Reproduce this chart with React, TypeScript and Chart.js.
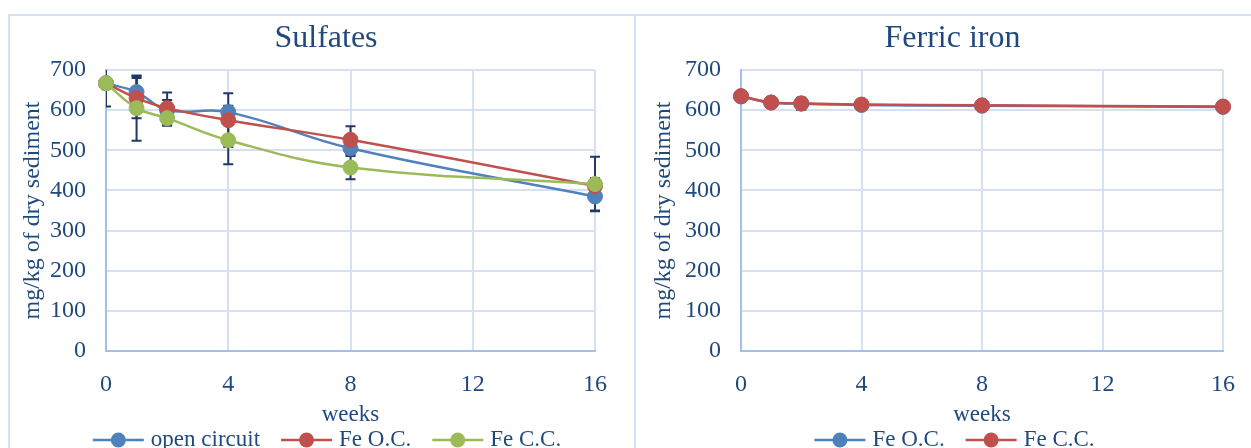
import React, { useEffect, useRef } from "react";
import { Chart, registerables } from "chart.js";
Chart.register(...registerables);

// ---- data ----
const weeks = [0, 1, 2, 4, 8, 16];

const sulfOpenCircuit = [667, 645, 600, 595, 505, 385];
const sulfFeOC = [667, 630, 605, 575, 526, 411];
const sulfFeCC = [667, 605, 580, 525, 457, 416];
const sulfOpenCircuitErr = [58, 40, 25, 16, 15, 35];
const sulfFeOCErr = [0, 50, 39, 67, 34, 20];
const sulfFeCCErr = [0, 81, 19, 60, 29, 68];

const ferricFeOC = [634, 619, 616, 613, 611, 608];
const ferricFeCC = [635, 619, 617, 614, 612, 609];
const ferricFeOCErr = [0, 0, 15, 0, 0, 0];
const ferricFeCCErr = [0, 0, 0, 0, 0, 0];

const sulfLabels = ["open circuit", "Fe O.C.", "Fe C.C."];
const ferricLabels = ["Fe O.C.", "Fe C.C."];

// ---- styles ----
const FONT = '"Liberation Serif", "Times New Roman", serif';
const TEXT = "#1F497D";
const GRID = "#D5E0F1";
const AXIS = "#A3C0E8";
const BORDER = "#D6E1F2";
const ERR = "#1F3864";
const BLUE = "#4F81BD";
const RED = "#C0504D";
const GREEN = "#9BBB59";

const errorBarPlugin = {
  id: "errbars",
  beforeDatasetsDraw(chart: any) {
    const { ctx, chartArea, scales } = chart;
    ctx.save();
    ctx.beginPath();
    ctx.rect(chartArea.left, chartArea.top, chartArea.right - chartArea.left + 12, chartArea.bottom - chartArea.top + 12);
    ctx.clip();
    ctx.strokeStyle = ERR;
    ctx.lineWidth = 2;
    chart.data.datasets.forEach((ds: any) => {
      const errs: number[] = ds.errors || [];
      ds.data.forEach((p: any, i: number) => {
        const e = errs[i];
        if (!e) return;
        const x = scales.x.getPixelForValue(p.x);
        const yt = scales.y.getPixelForValue(p.y + e);
        const yb = scales.y.getPixelForValue(p.y - e);
        ctx.beginPath();
        ctx.moveTo(x, yt);
        ctx.lineTo(x, yb);
        ctx.moveTo(x - 5, yt);
        ctx.lineTo(x + 5, yt);
        ctx.moveTo(x - 5, yb);
        ctx.lineTo(x + 5, yb);
        ctx.stroke();
      });
    });
    ctx.restore();
  },
};

function legendPlugin(centerX: number, y: number) {
  return {
    id: "xlegend",
    afterDraw(chart: any) {
      const { ctx } = chart;
      ctx.save();
      ctx.font = `23px ${FONT}`;
      const items = chart.data.datasets.map((ds: any) => ({
        label: ds.label,
        color: ds.borderColor,
        w: 51 + 7 + ctx.measureText(ds.label).width,
      }));
      const gap = 21;
      const total = items.reduce((a: number, it: any) => a + it.w, 0) + gap * (items.length - 1);
      let x = centerX - total / 2;
      items.forEach((it: any) => {
        ctx.strokeStyle = it.color;
        ctx.lineWidth = 2.5;
        ctx.beginPath();
        ctx.moveTo(x, y);
        ctx.lineTo(x + 51, y);
        ctx.stroke();
        ctx.fillStyle = it.color;
        ctx.beginPath();
        ctx.arc(x + 25.5, y, 7.5, 0, Math.PI * 2);
        ctx.fill();
        ctx.fillStyle = TEXT;
        ctx.textAlign = "left";
        ctx.textBaseline = "middle";
        ctx.fillText(it.label, x + 58, y);
        x += it.w + gap;
      });
      ctx.restore();
    },
  };
}

function series(label: string, values: number[], errs: number[], color: string, order: number) {
  return {
    label,
    data: weeks.map((w, i) => ({ x: w, y: values[i] })),
    errors: errs,
    order,
    clip: false,
    borderColor: color,
    backgroundColor: color,
    pointBackgroundColor: color,
    pointBorderColor: color,
    pointRadius: 7.5,
    pointHoverRadius: 7.5,
    pointBorderWidth: 1,
    borderWidth: 2.5,
    tension: 0.4,
  };
}

function makeConfig(opts: {
  title: string;
  datasets: any[];
  padLeft: number;
  yAxisWidth: number;
  yTitlePad: number;
  rightAxisWidth: number;
  legendX: number;
}) {
  return {
    type: "line" as const,
    data: { datasets: opts.datasets },
    plugins: [errorBarPlugin, legendPlugin(opts.legendX, 424)],
    options: {
      animation: false as const,
      responsive: false,
      events: [],
      layout: { padding: { left: opts.padLeft, right: 0, top: 0, bottom: 17 } },
      plugins: {
        legend: { display: false },
        tooltip: { enabled: false },
        title: {
          display: true,
          text: opts.title,
          color: TEXT,
          font: { family: FONT, size: 32, weight: "normal" as const },
          padding: { top: 3.8, bottom: 11.8 },
        },
      },
      scales: {
        x: {
          type: "linear" as const,
          min: 0,
          max: 16,
          afterFit: (s: any) => {
            s.height = 80;
          },
          ticks: {
            stepSize: 4,
            color: TEXT,
            font: { family: FONT, size: 24 },
            padding: 19,
            maxRotation: 0,
          },
          grid: { color: GRID, lineWidth: 2, drawTicks: false },
          border: { color: AXIS, width: 2 },
          title: {
            display: true,
            text: "weeks",
            color: TEXT,
            font: { family: FONT, size: 23 },
            padding: { top: 0, bottom: 2.6 },
          },
        },
        y: {
          min: 0,
          max: 700,
          afterFit: (s: any) => {
            s.width = opts.yAxisWidth;
          },
          ticks: {
            stepSize: 100,
            color: TEXT,
            font: { family: FONT, size: 24 },
            padding: 20,
          },
          grid: { color: GRID, lineWidth: 2, drawTicks: false },
          border: { color: AXIS, width: 2 },
          title: {
            display: true,
            text: "mg/kg of dry sediment",
            color: TEXT,
            font: { family: FONT, size: 24 },
            padding: { top: opts.yTitlePad, bottom: 0 },
          },
        },
        yRightSpace: {
          position: "right" as const,
          display: true,
          min: 0,
          max: 700,
          afterFit: (s: any) => {
            s.width = opts.rightAxisWidth;
          },
          ticks: { display: false },
          grid: { display: false, drawTicks: false },
          border: { display: false },
        },
      },
    },
  };
}

function ChartCanvas({ config, width, height }: { config: any; width: number; height: number }) {
  const ref = useRef<HTMLCanvasElement | null>(null);
  useEffect(() => {
    if (!ref.current) return;
    const chart = new Chart(ref.current, config);
    return () => chart.destroy();
  }, [config]);
  return <canvas ref={ref} width={width} height={height} style={{ width, height, display: "block" }} />;
}

const sulfConfig = makeConfig({
  title: "Sulfates",
  datasets: [
    series(sulfLabels[0], sulfOpenCircuit, sulfOpenCircuitErr, BLUE, 2),
    series(sulfLabels[1], sulfFeOC, sulfFeOCErr, RED, 1),
    series(sulfLabels[2], sulfFeCC, sulfFeCCErr, GREEN, 0),
  ],
  padLeft: 8,
  yAxisWidth: 88,
  yTitlePad: 0.6,
  rightAxisWidth: 39,
  legendX: 317,
});

const ferricConfig = makeConfig({
  title: "Ferric iron",
  datasets: [
    series(ferricLabels[0], ferricFeOC, ferricFeOCErr, BLUE, 1),
    series(ferricLabels[1], ferricFeCC, ferricFeCCErr, RED, 0),
  ],
  padLeft: 0,
  yAxisWidth: 104,
  yTitlePad: 12.6,
  rightAxisWidth: 45,
  legendX: 317.5,
});

export default function App() {
  return (
    <div
      style={{
        position: "fixed",
        left: 0,
        top: 0,
        width: 1251,
        height: 448,
        overflow: "hidden",
        background: "#ffffff",
      }}
    >
      <div style={{ position: "absolute", left: 8, top: 14, width: 1300, height: 2, background: BORDER }} />
      <div style={{ position: "absolute", left: 8, top: 14, width: 2, height: 500, background: BORDER }} />
      <div style={{ position: "absolute", left: 634, top: 14, width: 2, height: 500, background: BORDER }} />
      <div style={{ position: "absolute", left: 10, top: 16 }}>
        <ChartCanvas config={sulfConfig} width={624} height={432} />
      </div>
      <div style={{ position: "absolute", left: 637, top: 16 }}>
        <ChartCanvas config={ferricConfig} width={631} height={432} />
      </div>
    </div>
  );
}
